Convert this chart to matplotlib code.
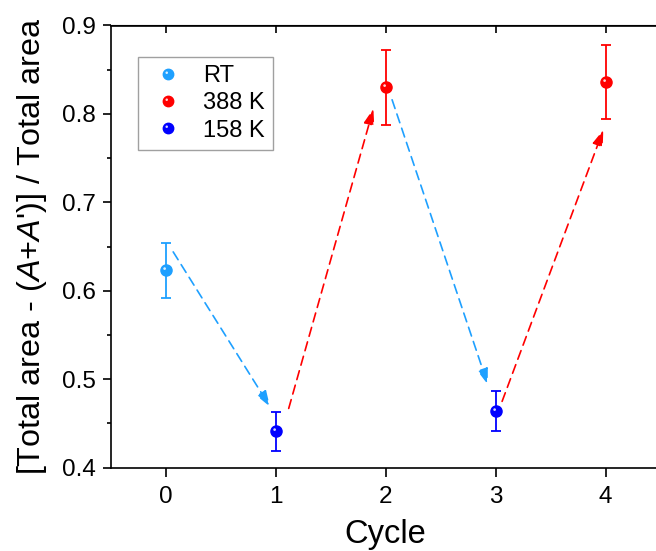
import matplotlib
matplotlib.use('Agg')
import matplotlib.pyplot as plt
from matplotlib.path import Path
from matplotlib.lines import Line2D
from matplotlib.legend_handler import HandlerTuple
from matplotlib.ticker import MultipleLocator

plt.rcParams['font.family'] = ['Liberation Sans', 'DejaVu Sans']
plt.rcParams['mathtext.fontset'] = 'custom'
plt.rcParams['mathtext.rm'] = 'Liberation Sans'
plt.rcParams['mathtext.it'] = 'Liberation Sans:italic'

# data
rt_cycle = [0]
rt_val = [0.623]
rt_err = [0.031]

hot_cycle = [2, 4]
hot_val = [0.830, 0.836]
hot_err = [0.042, 0.042]

cold_cycle = [1, 3]
cold_val = [0.441, 0.464]
cold_err = [0.022, 0.023]

c_rt = '#1EA0FF'
c_hot = '#FF0000'
c_cold = '#0000FF'

# dashed arrows between cycles (start, end, colour)
arrows = [
    ((0.07, 0.644), (0.95, 0.469), c_rt),
    ((1.12, 0.467), (1.89, 0.806), c_hot),
    ((2.06, 0.816), (2.93, 0.494), c_rt),
    ((3.06, 0.475), (3.98, 0.782), c_hot),
]

# small offset circle used as a highlight to give the balls a shaded look
hl = Path.circle(center=(-0.17, 0.17), radius=0.12)
ms = 8.0

fig = plt.figure(figsize=(6.56, 5.51), dpi=100)
ax = fig.add_axes([110.5 / 656, 83.3 / 551, 550 / 656, 442.2 / 551])

handles = []
for x, y, e, c in [(rt_cycle, rt_val, rt_err, c_rt),
                   (hot_cycle, hot_val, hot_err, c_hot),
                   (cold_cycle, cold_val, cold_err, c_cold)]:
    ax.errorbar(x, y, yerr=e, fmt='none', ecolor=c, elinewidth=1.3,
                capsize=3.8, capthick=1.3, zorder=3)
    ax.plot(x, y, 'o', color=c, ms=ms, mec=c, zorder=4)
    ax.plot(x, y, marker=hl, ls='none', color='white', alpha=0.85,
            ms=ms * 0.58, mew=0, zorder=5)
    h1 = Line2D([], [], marker='o', ls='none', color=c, ms=7.5)
    h2 = Line2D([], [], marker=hl, ls='none', color='white', alpha=0.85,
                ms=7.5 * 0.58, mew=0)
    handles.append((h1, h2))

for (x0, y0), (x1, y1), c in arrows:
    ax.annotate('', xy=(x1, y1), xytext=(x0, y0),
                arrowprops=dict(arrowstyle='-|>,head_length=0.95,head_width=0.32',
                                color=c, lw=1.2, linestyle=(0, (5.5, 3.5)),
                                shrinkA=0, shrinkB=0), zorder=2)

ax.set_xlim(-0.5, 4.5)
ax.set_ylim(0.4, 0.9)
ax.set_xticks([0, 1, 2, 3, 4])
ax.yaxis.set_major_locator(MultipleLocator(0.1))
ax.yaxis.set_minor_locator(MultipleLocator(0.05))

for s in ax.spines.values():
    s.set_linewidth(1.2)

ax.tick_params(axis='both', which='major', labelsize=17.5, width=1.2)
ax.tick_params(axis='x', which='major', direction='out', length=6.5, pad=7, top=False)
ax.tick_params(axis='y', which='major', direction='out', length=6, pad=4.8)
ax.tick_params(axis='y', which='minor', direction='out', length=3, width=1.2)

# ticks on the top edge point inward
ax_top = ax.secondary_xaxis('top')
ax_top.set_xticks([0, 1, 2, 3, 4])
ax_top.tick_params(direction='in', length=5.5, width=1.2, labeltop=False)

ax.set_xlabel('Cycle', fontsize=23.5, labelpad=7.5)
ax.set_ylabel(r"[Total area - ($\mathit{A}$+$\mathit{A}$')] / Total area",
              fontsize=23.3, labelpad=9)

leg = ax.legend(handles, ['RT', '388 K', '158 K'],
                handler_map={tuple: HandlerTuple(ndivide=1, pad=0)},
                loc='upper left', bbox_to_anchor=(0.05, 0.929),
                fontsize=17, frameon=True, fancybox=False, framealpha=1,
                edgecolor='#A0A0A0', borderpad=0.35, labelspacing=0.22,
                handlelength=1.85, handletextpad=0.55, borderaxespad=0)
leg.get_frame().set_linewidth(1.0)

fig.savefig('out.png', dpi=100)
